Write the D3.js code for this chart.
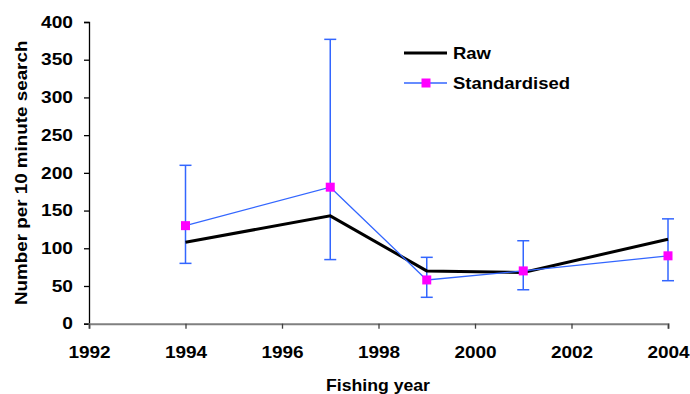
<!DOCTYPE html>
<html>
<head>
<meta charset="utf-8">
<script src="https://cdn.jsdelivr.net/npm/d3@7.9.0/dist/d3.min.js"></script>
<style>
  body { margin: 0; background: #fff; }
  text { font-family: "Liberation Sans", Arial, sans-serif; font-weight: bold; }
</style>
</head>
<body>
<svg id="chart" width="690" height="394"></svg>
<script>
// data
const years = [1994, 1997, 1999, 2001, 2004];
const raw = [108, 143, 70, 68, 112];
const standardised = [130, 181, 58, 70, 90];
const upper = [210, 377, 88, 110, 139];
const lower = [80, 85, 35, 45, 57];
const xTicks = [1992, 1994, 1996, 1998, 2000, 2002, 2004];
const yTicks = [0, 50, 100, 150, 200, 250, 300, 350, 400];

const svg = d3.select('#chart');
const margin = { left: 89, right: 22, top: 22, bottom: 70 };
const w = 690, h = 394;
const fs = 16.5;

let x = d3.scaleLinear().domain([1992, 2004]).range([margin.left, w - margin.right]);
let y = d3.scaleLinear().domain([0, 400]).range([h - margin.bottom - 0.3, margin.top]);

// the original font looks a bit wider than Arial, stretch it
function widen(sel, k) {
    sel.each(function () {
        let len = this.getComputedTextLength();
        d3.select(this).attr('textLength', len * k).attr('lengthAdjust', 'spacingAndGlyphs');
    });
}

// y axis
let yAxis = svg.append('g')
    .attr('transform', `translate(${margin.left},0)`)
    .call(d3.axisLeft(y).tickValues(yTicks).tickSize(5).tickPadding(11));
yAxis.select('.domain').attr('stroke', '#000').attr('stroke-width', 1.3);
yAxis.selectAll('.tick line').attr('stroke', '#000').attr('stroke-width', 1.3);
yAxis.selectAll('text').attr('font-size', fs).attr('fill', '#000').attr('font-family', null);
widen(yAxis.selectAll('text'), 1.16);

// x axis
let xAxis = svg.append('g')
    .attr('transform', `translate(0,${y(0)})`)
    .call(d3.axisBottom(x).tickValues(xTicks).tickFormat(d3.format('d')).tickSize(5).tickPadding(18));
xAxis.select('.domain').attr('stroke', '#808080').attr('stroke-width', 2);
xAxis.selectAll('.tick line').attr('stroke', '#404040').attr('stroke-width', 1.3);
xAxis.selectAll('text').attr('font-size', fs).attr('fill', '#000').attr('font-family', null);
widen(xAxis.selectAll('text'), 1.15);

// axis titles
let xt = svg.append('text')
    .attr('x', 378)
    .attr('y', 391)
    .attr('text-anchor', 'middle')
    .attr('font-size', fs)
    .text('Fishing year');
widen(xt, 1.07);

let yt = svg.append('text')
    .attr('transform', `translate(27,${(y(0) + y(400)) / 2}) rotate(-90)`)
    .attr('text-anchor', 'middle')
    .attr('font-size', fs)
    .text('Number per 10 minute search');
widen(yt, 1.14);

// error bars
const blue = '#3366ff';
years.forEach((yr, i) => {
    svg.append('line')
        .attr('x1', x(yr)).attr('x2', x(yr))
        .attr('y1', y(upper[i])).attr('y2', y(lower[i]))
        .attr('stroke', blue).attr('stroke-width', 1.5);
    [upper[i], lower[i]].forEach(v => {
        svg.append('line')
            .attr('x1', x(yr) - 6).attr('x2', x(yr) + 6)
            .attr('y1', y(v)).attr('y2', y(v))
            .attr('stroke', blue).attr('stroke-width', 1.5);
    });
});

let line = d3.line().x(d => x(d[0])).y(d => y(d[1]));

// raw line
svg.append('path')
    .attr('d', line(years.map((yr, i) => [yr, raw[i]])))
    .attr('fill', 'none').attr('stroke', '#000').attr('stroke-width', 3);

// standardised line + markers
svg.append('path')
    .attr('d', line(years.map((yr, i) => [yr, standardised[i]])))
    .attr('fill', 'none').attr('stroke', blue).attr('stroke-width', 1.3);

svg.selectAll('rect.marker')
    .data(years)
    .join('rect')
    .attr('class', 'marker')
    .attr('x', d => x(d) - 4.5)
    .attr('y', (d, i) => y(standardised[i]) - 4.5)
    .attr('width', 9).attr('height', 9)
    .attr('fill', '#ff00ff');

// legend
let legend = svg.append('g');
legend.append('line')
    .attr('x1', 404).attr('x2', 447).attr('y1', 53).attr('y2', 53)
    .attr('stroke', '#000').attr('stroke-width', 3);
legend.append('line')
    .attr('x1', 404).attr('x2', 447).attr('y1', 83).attr('y2', 83)
    .attr('stroke', blue).attr('stroke-width', 1.3);
legend.append('rect')
    .attr('x', 421.5).attr('y', 78.5).attr('width', 9).attr('height', 9)
    .attr('fill', '#ff00ff');
let lt = legend.selectAll('text.lab')
    .data(['Raw', 'Standardised'])
    .join('text')
    .attr('class', 'lab')
    .attr('x', 453)
    .attr('y', (d, i) => 58.5 + i * 30)
    .attr('font-size', fs)
    .text(d => d);
widen(lt, 1.12);
</script>
</body>
</html>
